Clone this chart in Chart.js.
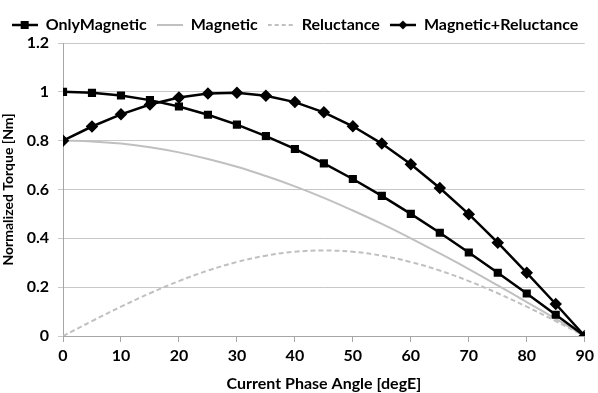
<!DOCTYPE html>
<html><head><meta charset="utf-8">
<script src="https://cdn.jsdelivr.net/npm/chart.js@4/dist/chart.umd.min.js"></script>
<style>html,body{margin:0;padding:0;background:#fff}#wrap{width:598px;height:393px}</style>
</head><body><div id="wrap"><canvas id="c" width="598" height="393"></canvas></div>
<script>
const angles = [0,5,10,15,20,25,30,35,40,45,50,55,60,65,70,75,80,85,90];
const onlyMagnetic = [1,0.996,0.985,0.966,0.94,0.906,0.866,0.819,0.766,0.707,0.643,0.574,0.5,0.423,0.342,0.259,0.174,0.087,0];
const magnetic = [0.8,0.797,0.788,0.773,0.752,0.725,0.693,0.655,0.613,0.566,0.514,0.459,0.4,0.338,0.274,0.207,0.139,0.07,0];
const reluctance = [0,0.061,0.12,0.175,0.225,0.268,0.303,0.329,0.345,0.35,0.345,0.329,0.303,0.268,0.225,0.175,0.12,0.061,0];
const magRel = [0.8,0.858,0.908,0.948,0.977,0.993,0.996,0.984,0.958,0.916,0.859,0.788,0.703,0.606,0.499,0.382,0.259,0.131,0];
const seriesNames = ['OnlyMagnetic','Magnetic','Reluctance','Magnetic+Reluctance'];
const xTicks = [0,10,20,30,40,50,60,70,80,90];
const yTicks = [0,0.2,0.4,0.6,0.8,1,1.2];

function pts(arr){return angles.map((a,i)=>({x:a,y:arr[i]}));}
function legendIcon(color, width, dash, marker){
  const c=document.createElement('canvas'); c.width=26; c.height=12;
  const g=c.getContext('2d');
  g.strokeStyle=color; g.lineWidth=width; g.setLineDash(dash||[]);
  g.beginPath(); g.moveTo(0,6); g.lineTo(26,6); g.stroke();
  g.fillStyle=color;
  if(marker==='rect'){ g.fillRect(9,2,8,8); }
  if(marker==='rectRot'){ g.beginPath(); g.moveTo(13,1.5); g.lineTo(17.5,6); g.lineTo(13,10.5); g.lineTo(8.5,6); g.closePath(); g.fill(); }
  return c;
}
const icons=[legendIcon('#000',2.5,null,'rect'),legendIcon('#c0c0c0',2,null,null),legendIcon('#c0c0c0',2,[4,3],null),legendIcon('#000',2.5,null,'rectRot')];
const font='Lato, "Open Sans", sans-serif';
new Chart(document.getElementById('c'),{
  type:'line',
  data:{datasets:[
    {label:seriesNames[0],data:pts(onlyMagnetic),borderColor:'#000',backgroundColor:'#000',borderWidth:2.5,pointStyle:'rect',pointRadius:4,tension:0,order:1},
    {label:seriesNames[1],data:pts(magnetic),borderColor:'#c0c0c0',borderWidth:2,pointRadius:0,tension:0.4,order:3},
    {label:seriesNames[2],data:pts(reluctance),borderColor:'#c0c0c0',borderWidth:2,borderDash:[5,3],pointRadius:0,tension:0.4,order:3},
    {label:seriesNames[3],data:pts(magRel),borderColor:'#000',backgroundColor:'#000',borderWidth:2.5,pointStyle:'rectRot',pointRadius:4.5,tension:0,order:0}
  ]},
  options:{
    responsive:false,animation:false,
    layout:{padding:{right:8,top:7,left:0,bottom:0}},
    plugins:{
      tooltip:{enabled:false},
      legend:{position:'top',labels:{
        usePointStyle:true,pointStyleWidth:26,boxHeight:12,padding:10,color:'#000',
        font:{family:font,size:16,weight:'bold'},
        generateLabels:(ch)=>ch.data.datasets.map((d,i)=>({text:d.label,pointStyle:icons[i],fillStyle:'#000',strokeStyle:'#000',lineWidth:0,datasetIndex:i,fontColor:'#000'}))
      }}
    },
    scales:{
      x:{type:'linear',min:0,max:90,
        afterBuildTicks:(s)=>{s.ticks=xTicks.map(v=>({value:v}));},
        afterFit:(s)=>{s.height=57;},
        grid:{drawOnChartArea:false,drawTicks:true,tickLength:6,color:'#a6a6a6'},
        border:{color:'#a6a6a6',width:1},
        ticks:{color:'#000',font:{family:font,size:16,weight:'bold'},padding:4,maxRotation:0},
        title:{display:true,text:'Current Phase Angle [degE]',color:'#000',font:{family:font,size:16,weight:'bold'},padding:{top:4,bottom:0}}
      },
      y:{min:0,max:1.2,
        afterBuildTicks:(s)=>{s.ticks=yTicks.map(v=>({value:v}));},
        afterFit:(s)=>{s.width=63;},
        grid:{color:'#c8c8c8',drawTicks:true,tickLength:5,lineWidth:1},
        border:{color:'#a6a6a6',width:1},
        ticks:{color:'#000',font:{family:font,size:16,weight:'bold'},padding:9,
          callback:(v)=>String(Math.round(v*10)/10)},
        title:{display:true,text:'Normalized Torque [Nm]',color:'#000',font:{family:font,size:14,weight:'bold'},padding:{top:0,bottom:0}}
      }
    }
  }
});
</script></body></html>
